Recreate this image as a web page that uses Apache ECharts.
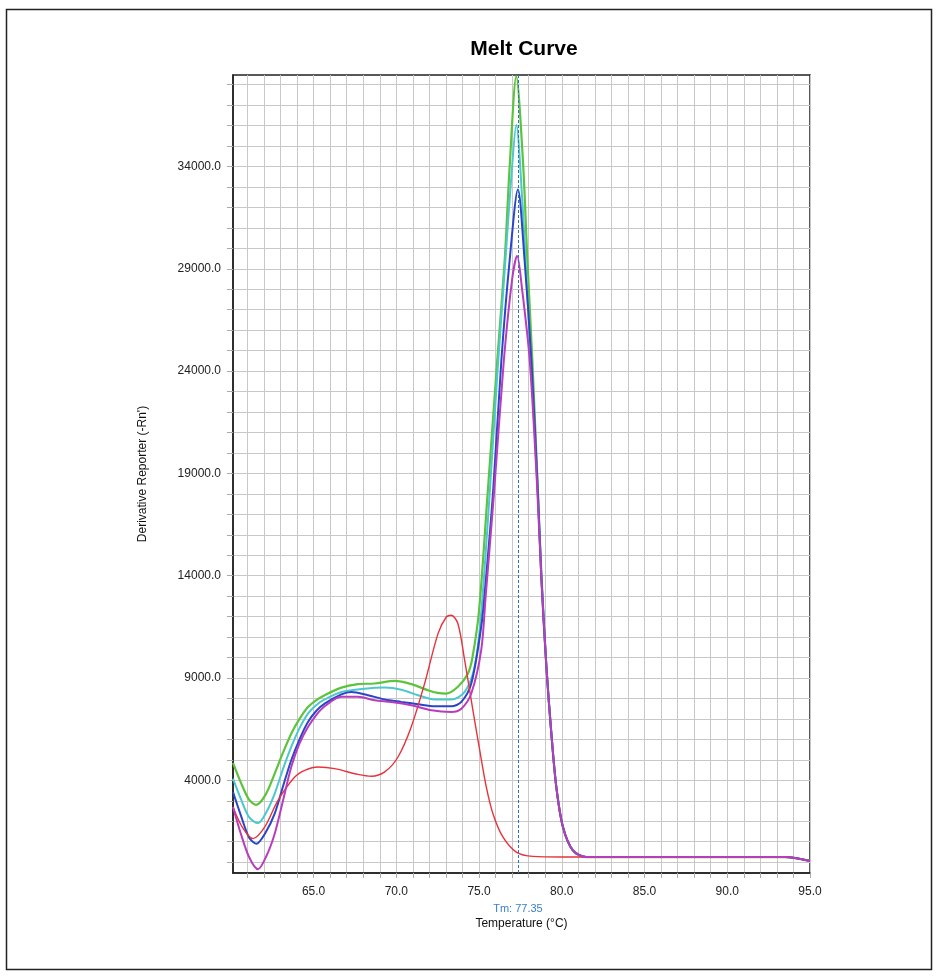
<!DOCTYPE html>
<html>
<head>
<meta charset="utf-8">
<title>Melt Curve</title>
<script src="https://cdn.jsdelivr.net/npm/echarts@6/dist/echarts.min.js"></script>
<style>
  html, body { margin: 0; padding: 0; background: #fff; }
  #chart { width: 938px; height: 978px; }
</style>
</head>
<body>
<div id="chart"></div>
<script>
// temperature (°C) / derivative reporter pairs
const greenCurve = [
  [60.13, 4850], [60.6, 3900], [61.1, 3050], [61.54, 2800], [62.1, 3300], [62.65, 4330],
  [63.15, 5350], [63.65, 6280], [64.15, 7000], [64.66, 7580], [65.17, 7920], [65.67, 8160],
  [66.68, 8530], [67.68, 8700], [68.69, 8730], [69.9, 8860], [70.91, 8700], [71.91, 8400],
  [72.5, 8270], [73.02, 8240], [73.72, 8570], [74.33, 9220], [74.6, 10000], [75.0, 12300],
  [75.5, 17800], [76.1, 24540], [76.55, 29430], [76.85, 34000], [77.25, 38400], [77.65, 34300],
  [77.92, 29430], [78.22, 24540], [78.56, 18020], [78.76, 14000], [79.07, 9540], [79.37, 6280],
  [79.67, 3670], [80.07, 1720], [80.67, 580], [81.48, 250], [93.5, 250], [95, 60]
]
const cyanCurve = [
  [60.13, 4080], [60.6, 3100], [61.1, 2200], [61.64, 1910], [62.15, 2450], [62.65, 3350],
  [63.15, 4550], [63.65, 5630], [64.15, 6550], [64.66, 7260], [65.17, 7680], [65.67, 7950],
  [66.68, 8320], [68.09, 8480], [69.3, 8530], [70.3, 8430], [71.31, 8160], [72.32, 7950],
  [73.32, 7950], [74.13, 8320], [74.73, 9540], [75.1, 11900], [75.6, 17500], [76.1, 23800],
  [76.6, 29500], [76.95, 33500], [77.25, 36030], [77.6, 32500], [77.9, 28000], [78.2, 23500],
  [78.55, 18000], [78.78, 14000], [79.07, 9540], [79.37, 6280], [79.67, 3670], [80.07, 1720],
  [80.67, 580], [81.48, 250], [93.5, 250], [95, 60]
]
const blueCurve = [
  [60.13, 3430], [60.6, 2300], [61.1, 1200], [61.54, 900], [62.1, 1450], [62.65, 2370],
  [63.15, 3700], [63.65, 4980], [64.15, 6000], [64.66, 6850], [65.17, 7400], [65.67, 7750],
  [66.68, 8200], [67.28, 8320], [68.29, 8160], [69.3, 7950], [70.3, 7830], [71.31, 7720],
  [72.32, 7620], [73.32, 7620], [73.93, 7830], [74.53, 8730], [75.13, 11500], [75.34, 13130],
  [75.84, 18020], [76.35, 24540], [76.85, 29430], [77.35, 32880], [77.75, 29430], [78.16, 24540],
  [78.56, 18020], [78.76, 14000], [79.07, 9540], [79.37, 6280], [79.67, 3670], [80.07, 1720],
  [80.67, 580], [81.48, 250], [93.5, 250], [95, 60]
]
const purpleCurve = [
  [60.13, 2700], [60.6, 1400], [61.1, 250], [61.64, -350], [62.15, 300], [62.65, 1390],
  [63.15, 3000], [63.65, 4650], [64.15, 5800], [64.66, 6600], [65.17, 7200], [65.67, 7620],
  [66.68, 8080], [67.68, 8080], [68.69, 7910], [69.7, 7830], [70.9, 7670], [72.12, 7420],
  [73.32, 7340], [73.93, 7500], [74.53, 8240], [75.13, 10360], [75.4, 13000], [75.9, 18000],
  [76.5, 24540], [77.0, 28500], [77.3, 29620], [77.6, 28000], [78.06, 24540], [78.5, 18500],
  [78.76, 14000], [79.07, 9540], [79.37, 6280], [79.67, 3670], [80.07, 1720], [80.67, 580],
  [81.48, 250], [93.5, 250], [95, 60]
]
const redCurve = [
  [60.13, 2700], [60.7, 1700], [61.34, 1150], [62.05, 1720], [62.85, 3020], [63.86, 4160],
  [64.5, 4500], [65.27, 4650], [66.28, 4570], [67.68, 4290], [68.49, 4200], [69.3, 4410],
  [70.1, 5140], [70.9, 6610], [71.71, 8730], [72.52, 11170], [73.02, 11980], [73.32, 12070],
  [73.72, 11660], [74.13, 9870], [74.63, 7420], [75.04, 5470], [75.44, 3670], [75.84, 2370],
  [76.44, 1230], [77.25, 490], [78.26, 280], [80, 250], [93.5, 250], [95, 60]
]
const tmValue = 77.35

const xTickValues = [61, 62, 63, 64, 65, 66, 67, 68, 69, 70, 71, 72, 73, 74, 75, 76, 77, 78,
  79, 80, 81, 82, 83, 84, 85, 86, 87, 88, 89, 90, 91, 92, 93, 94, 95]
const xLabelValues = [65, 70, 75, 80, 85, 90, 95]
const yTickValues = [0, 1000, 2000, 3000, 4000, 5000, 6000, 7000, 8000, 9000, 10000, 11000,
  12000, 13000, 14000, 15000, 16000, 17000, 18000, 19000, 20000, 21000, 22000, 23000, 24000,
  25000, 26000, 27000, 28000, 29000, 30000, 31000, 32000, 33000, 34000, 35000, 36000, 37000, 38000]
const yLabelValues = [4000, 9000, 14000, 19000, 24000, 29000, 34000]

const font = '"Liberation Sans", Arial, sans-serif'
const chart = echarts.init(document.getElementById('chart'))

function curve(name, data, color, width) {
  return {
    name: name,
    type: 'line',
    data: data,
    smooth: 0.3,
    showSymbol: false,
    symbol: 'none',
    silent: true,
    lineStyle: { color: color, width: width },
    itemStyle: { color: color }
  }
}

const blueSeries = curve('blue', blueCurve, '#2a45c8', 2)
blueSeries.markLine = {
  symbol: 'none',
  silent: true,
  animation: false,
  data: [{ xAxis: tmValue }],
  lineStyle: { color: '#2f6fc0', type: [3, 2], width: 1 },
  label: {
    position: 'start',
    distance: 30,
    formatter: 'Tm: ' + tmValue.toFixed(2),
    color: '#3a80c8',
    fontSize: 11,
    fontFamily: font
  }
}

chart.setOption({
  animation: false,
  backgroundColor: '#fff',
  title: {
    text: 'Melt Curve',
    left: 519,
    textAlign: 'center',
    top: 34,
    textStyle: { fontSize: 21, fontWeight: 'bold', color: '#000', fontFamily: font }
  },
  graphic: [{
    type: 'rect',
    shape: { x: 6.5, y: 9.5, width: 925, height: 960 },
    style: { fill: null, stroke: '#222', lineWidth: 1.5 },
    silent: true
  }],
  grid: {
    left: 233,
    top: 75,
    width: 577,
    height: 798,
    show: true,
    borderColor: '#222',
    borderWidth: 1.5,
    backgroundColor: 'transparent'
  },
  xAxis: {
    type: 'value',
    min: 60.13,
    max: 95,
    name: 'Temperature (°C)',
    nameLocation: 'middle',
    nameGap: 45,
    nameTextStyle: { fontSize: 12, color: '#111', fontFamily: font },
    axisLine: { show: true, onZero: false, lineStyle: { color: '#222', width: 1.5 } },
    axisTick: { show: true, length: 5, customValues: xTickValues, lineStyle: { color: '#aaa' } },
    axisLabel: {
      customValues: xLabelValues,
      margin: 13,
      fontSize: 12,
      color: '#222',
      fontFamily: font,
      formatter: (v) => v.toFixed(1)
    },
    splitLine: { show: true, lineStyle: { color: '#c8c8c8', width: 1 } }
  },
  yAxis: {
    type: 'value',
    min: -530,
    max: 38470,
    name: "Derivative Reporter (-Rn')",
    nameLocation: 'middle',
    nameGap: 84,
    nameTextStyle: { fontSize: 12, color: '#111', fontFamily: font },
    axisLine: { show: true, onZero: false, lineStyle: { color: '#222', width: 1.5 } },
    axisTick: { show: true, length: 6, customValues: yTickValues, lineStyle: { color: '#aaa' } },
    axisLabel: {
      customValues: yLabelValues,
      margin: 12,
      fontSize: 12,
      color: '#222',
      fontFamily: font,
      formatter: (v) => v.toFixed(1)
    },
    splitLine: { show: true, lineStyle: { color: '#c8c8c8', width: 1 } }
  },
  series: [
    curve('green', greenCurve, '#5cc43c', 2.2),
    curve('cyan', cyanCurve, '#4cc8cc', 2),
    blueSeries,
    curve('red', redCurve, '#e8323c', 1.4),
    curve('purple', purpleCurve, '#b83cbc', 2)
  ]
})
</script>
</body>
</html>
